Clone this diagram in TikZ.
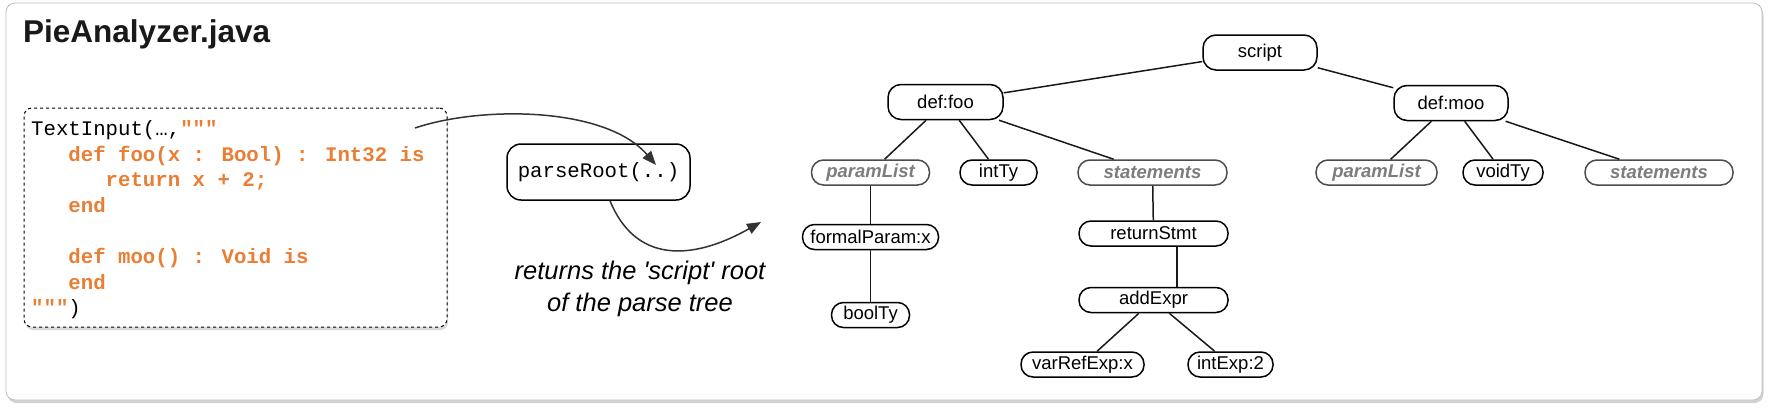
\documentclass[tikz,border=0pt]{standalone}
\usepackage{fontspec}
\usetikzlibrary{arrows.meta,shadows}
\newfontfamily\treeFont{Liberation Sans}[Ligatures=TeXOff]
\newfontfamily\codeFont{Liberation Mono}
\definecolor{codeOrange}{RGB}{233,126,52}
\definecolor{ghostGray}{RGB}{125,125,125}
\newcommand{\codeHi}[1]{\textcolor{codeOrange}{\bfseries #1}}
\newcommand{\codeLine}[4]{%%
  \node[codeStyle] (#1) at (31+#2*12.42,#3) {#4};
}
\newcommand{\astNode}[5]{%%
  \node[#1,minimum width=#4] (#2) at #3 {#5};
}

\begin{document}
\begin{tikzpicture}[x=1pt,y=-1pt,%%
  panelStyle/.style={draw=black!25,line width=0.8pt,rounded corners=9pt,fill=white,%%
    drop shadow={shadow xshift=1.5pt,shadow yshift=-3pt,opacity=0.35}},%%
  codeBoxStyle/.style={draw,dashed,line width=1pt,rounded corners=8pt,fill=white,%%
    minimum width=423pt,minimum height=219pt,%%
    drop shadow={shadow xshift=1pt,shadow yshift=-3pt,opacity=0.3}},%%
  codeStyle/.style={anchor=base west,inner sep=0pt,font=\codeFont\fontsize{20.7}{25}\selectfont},%%
  callStyle/.style={draw,line width=1.5pt,rounded corners=14pt,minimum width=183pt,%%
    minimum height=56pt,font=\codeFont\fontsize{20.7}{25}\selectfont},%%
  bigNodeStyle/.style={draw,line width=1.5pt,rounded corners=13pt,minimum height=35pt,%%
    inner sep=0pt,font=\treeFont\fontsize{18.5}{22}\selectfont},%%
  smallNodeStyle/.style={bigNodeStyle,rounded corners=12pt,minimum height=25pt},%%
  ghostNodeStyle/.style={smallNodeStyle,draw=black!70,text=ghostGray,%%
    font=\treeFont\fontsize{18.5}{22}\selectfont\bfseries\itshape},%%
  edgeStyle/.style={-,line width=1.5pt,black!90},%%
  arrowStyle/.style={-{Triangle[length=14pt,width=11pt]},line width=1.5pt,black!80}%%
]
%%
\useasboundingbox (0,0) rectangle (1768,410);
\node[panelStyle,minimum width=1756pt,minimum height=397pt] (panel) at (884,201.5) {};
\node[anchor=base west,inner sep=0pt,text=black!90,%%
  font=\treeFont\fontsize{31.5}{36}\selectfont\bfseries] (title) at (23,42) {PieAnalyzer.java};
%%
%% The source text handed to the parser.
\node[codeBoxStyle] (codeBox) at (235.5,217.5) {};
\codeLine{lineA}{0}{135}{TextInput(…,\codeHi{"""}}
\codeLine{lineB}{3}{161}{\codeHi{def foo(x : Bool) : Int32 is}}
\codeLine{lineC}{6}{186}{\codeHi{return x + 2;}}
\codeLine{lineD}{3}{212}{\codeHi{end}}
\codeLine{lineE}{3}{263}{\codeHi{def moo() : Void is}}
\codeLine{lineF}{3}{289}{\codeHi{end}}
\codeLine{lineG}{0}{314}{\codeHi{"""})}
%%
\node[callStyle] (parseRoot) at (598.5,172) {parseRoot(..)};
\node[anchor=north,inner sep=0pt,align=center,%%
  font=\treeFont\fontsize{25.5}{32}\selectfont\itshape] (returnNote) at (640,261)
  {returns the 'script' root\\of the parse tree};
%%
\coordinate (codeOut) at (415,128);
\coordinate (callIn) at (656,165);
\coordinate (treeIn) at (761,222);
\draw[arrowStyle] (codeOut) .. controls (480,106) and (605,106) .. (callIn);
\draw[arrowStyle] ([xshift=11.5pt]parseRoot.south) .. controls (635,262) and (690,262) .. (treeIn);
%%
%% The parse tree.
\astNode{bigNodeStyle}{script}{(1260,52.5)}{114pt}{script}
\astNode{bigNodeStyle}{defFoo}{(945.5,102)}{115pt}{def:foo}
\astNode{bigNodeStyle}{defMoo}{(1451,103)}{114pt}{def:moo}
\astNode{ghostNodeStyle}{paramFoo}{(870.5,172.5)}{118pt}{paramList}
\astNode{smallNodeStyle}{intTy}{(998.5,172.5)}{77pt}{intTy}
\astNode{ghostNodeStyle}{stmtFoo}{(1152.5,172.5)}{149pt}{statements}
\astNode{ghostNodeStyle}{paramMoo}{(1376.5,172.5)}{121pt}{paramList}
\astNode{smallNodeStyle}{voidTy}{(1503,172.5)}{80pt}{voidTy}
\astNode{ghostNodeStyle}{stmtMoo}{(1659,172.5)}{148pt}{statements}
\astNode{smallNodeStyle}{formalParam}{(870.5,237)}{136pt}{formalParam:x}
\astNode{smallNodeStyle}{boolTy}{(870.5,315)}{78pt}{boolTy}
\astNode{smallNodeStyle}{returnStmt}{(1153.5,233.5)}{149pt}{returnStmt}
\astNode{smallNodeStyle}{addExpr}{(1153.5,300)}{149pt}{addExpr}
\astNode{smallNodeStyle}{varRef}{(1082.5,364.5)}{123pt}{varRefExp:x}
\astNode{smallNodeStyle}{intExp}{(1230.5,364.5)}{85pt}{intExp:2}
%%
\draw[edgeStyle] (script) -- (defFoo);
\draw[edgeStyle] (script) -- (defMoo);
\draw[edgeStyle] (defFoo) -- (paramFoo);
\draw[edgeStyle] (defFoo) -- (intTy);
\draw[edgeStyle] (defFoo) -- (stmtFoo);
\draw[edgeStyle] (defMoo) -- (paramMoo);
\draw[edgeStyle] (defMoo) -- (voidTy);
\draw[edgeStyle] (defMoo) -- (stmtMoo);
\draw[edgeStyle] (paramFoo) -- (formalParam);
\draw[edgeStyle] (formalParam) -- (boolTy);
\draw[edgeStyle] (stmtFoo) -- (returnStmt);
\draw[edgeStyle] ([xshift=23.5pt]returnStmt.south) -- ([xshift=23.5pt]addExpr.north);
\draw[edgeStyle] (addExpr) -- (varRef);
\draw[edgeStyle] (addExpr) -- (intExp);
\end{tikzpicture}
\end{document}
